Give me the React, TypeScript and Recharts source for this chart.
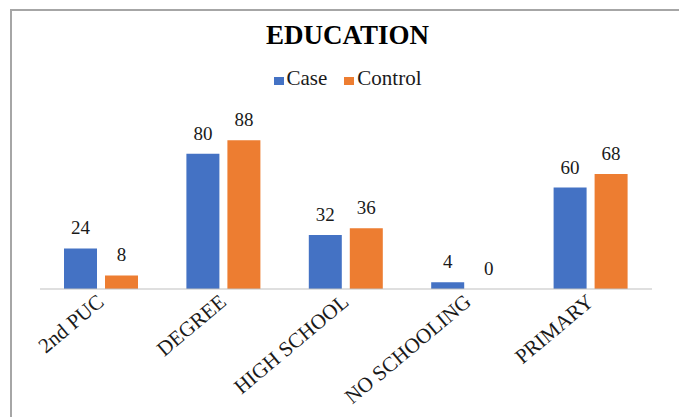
import { BarChart, Bar, XAxis, YAxis, Legend, LabelList } from 'recharts';

const categories = ['2nd PUC', 'DEGREE', 'HIGH SCHOOL', 'NO SCHOOLING', 'PRIMARY'];
const caseValues = [24, 80, 32, 4, 60];
const controlValues = [8, 88, 36, 0, 68];
const seriesNames = ['Case', 'Control'];
const seriesColors = ['#4472C4', '#ED7D31'];

const FONT = '"Liberation Serif", "Times New Roman", serif';

const data = categories.map((name, i) => ({
  name,
  Case: caseValues[i],
  Control: controlValues[i],
}));

// rotated category labels, end anchored under the category centre
function AngledTick({ x, y, payload }: any) {
  return (
    <g transform={`translate(${x + 4},${y + 15})`}>
      <text
        x={0}
        y={0}
        textAnchor="end"
        transform="rotate(-40)"
        fontFamily={FONT}
        style={{ fontFamily: FONT, fontSize: 21 }}
        fill="#1a1a1a"
      >
        {payload.value}
      </text>
    </g>
  );
}

function LegendContent() {
  return (
    <div style={{ display: 'flex', justifyContent: 'center', fontFamily: FONT, fontSize: 21, lineHeight: '20px', color: '#1a1a1a' }}>
      {seriesNames.map((s, i) => (
        <span key={s} style={{ display: 'flex', alignItems: 'center', fontFamily: FONT, marginRight: i === 0 ? 17 : 0 }}>
          <span style={{ width: 10, height: 8, background: seriesColors[i], display: 'inline-block', marginRight: 3, marginTop: 6 }} />
          <span style={{ fontFamily: FONT }}>{s}</span>
        </span>
      ))}
    </div>
  );
}

function ValueLabel({ x, y, width, value }: any) {
  return (
    <text
      x={x + width / 2}
      y={y - 14}
      textAnchor="middle"
      fontFamily={FONT}
      style={{ fontFamily: FONT, fontSize: 19 }}
      fill="#1a1a1a"
    >
      {value}
    </text>
  );
}

export default function App() {
  return (
    <div
      style={{
        position: 'relative',
        width: 671,
        height: 420,
        marginLeft: 2,
        marginTop: 1,
        border: '2px solid #a6a6a6',
        background: '#fff',
      }}
    >
      <div
        style={{
          position: 'absolute',
          top: 11,
          left: 0,
          width: 671,
          textAlign: 'center',
          fontFamily: FONT,
          fontWeight: 'bold',
          fontSize: 27,
          lineHeight: '27px',
          color: '#000',
        }}
      >
        EDUCATION
      </div>
      <BarChart
        width={671}
        height={406}
        data={data}
        margin={{ top: 89, right: 31, bottom: 0, left: 28 }}
        barSize={33}
        barGap={8}
      >
        <XAxis
          dataKey="name"
          height={128}
          interval={0}
          tickLine={false}
          tickSize={0}
          tickMargin={0}
          axisLine={{ stroke: '#bfbfbf', strokeWidth: 1 }}
          tick={<AngledTick />}
        />
        <YAxis hide domain={[0, 100]} />
        <Legend
          verticalAlign="top"
          content={<LegendContent />}
          wrapperStyle={{ top: 57, left: 0, width: 671, height: 20 }}
        />
        {seriesNames.map((s, i) => (
          <Bar key={s} dataKey={s} fill={seriesColors[i]} minPointSize={0.01} isAnimationActive={false}>
            <LabelList dataKey={s} content={<ValueLabel />} />
          </Bar>
        ))}
      </BarChart>
    </div>
  );
}
